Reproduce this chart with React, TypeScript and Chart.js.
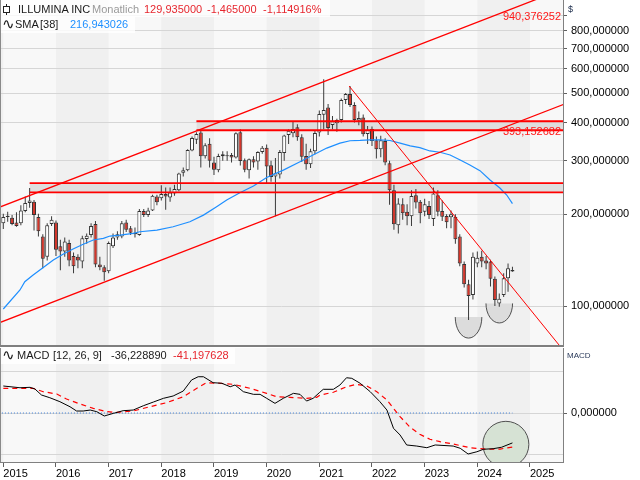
import React, { useEffect, useRef } from "react";
import { Chart, registerables } from "chart.js";

Chart.register(...registerables);

const FONT = "'Liberation Sans', Arial, sans-serif";

// ---- categories / ticks ----
const yearLabels = ["2015", "2016", "2017", "2018", "2019", "2020", "2021", "2022", "2023", "2024", "2025"];
const yearStartMonths = [0, 12, 24, 36, 48, 60, 72, 84, 96, 108, 120]; // month index, 0 = Jan 2015
const priceTicks = [100, 200, 300, 400, 500, 600, 700, 800, 900];
const priceTickLabels = ["100,000000", "200,000000", "300,000000", "400,000000", "500,000000", "600,000000", "700,000000", "800,000000", ""];
const macdTicks = [-50, 0, 50];
const macdTickLabels = ["", "0,000000", ""];

// ---- monthly candles, Jan 2015 .. Sep 2024 ----
const opens = [187, 196, 195, 188, 187, 205, 218, 220, 196, 169, 145, 186,
  188, 157, 151, 161, 146, 145, 140, 166, 171, 186, 137, 134,
  130, 157, 168, 169, 188, 180, 174, 171, 205, 199, 206, 229,
  226, 233, 227, 234, 240, 274, 279, 324, 351, 371, 310, 341,
  296, 279, 315, 310, 313, 307, 372, 301, 279, 303, 298, 320,
  331, 290, 266, 270, 318, 364, 369, 386, 358, 311, 292, 322,
  371, 424, 448, 393, 398, 408, 474, 496, 457, 406, 416, 367,
  381, 350, 327, 348, 294, 240, 184, 216, 204, 197, 231, 220,
  204, 213, 193, 231, 205, 197.5, 195.6, 196.5, 169, 137.4, 117.8, 108.7,
  138, 145, 141, 140, 123, 102, 108.7, 123.3, 131.4];
const highs = [201, 204, 199, 203, 214, 229, 244, 223, 201, 172, 187, 197,
  191, 165, 168, 165, 150, 148, 170, 173, 187, 190, 145, 136,
  163, 173, 176, 190, 192, 183, 181, 208, 208, 210, 232, 232,
  249, 245, 245, 250, 274, 285, 327, 360, 372, 377, 342, 355,
  309, 316, 322, 322, 318, 372, 380, 305, 305, 310, 322, 335,
  339, 300, 306, 325, 365, 380, 404, 395, 366, 341, 328, 375,
  438, 555, 460, 420, 412, 480, 500, 527, 466, 435, 425, 390,
  388, 360, 362, 355, 300, 250, 226, 226, 216, 240, 242, 223,
  225, 221, 245, 240, 222, 200, 206, 200, 172, 140, 122, 150,
  151, 152, 146, 142, 125, 110, 128, 138, 134.6];
const lows = [179, 189, 184, 182, 184, 203, 210, 177, 169, 133, 141, 183,
  146, 131, 145, 135, 128, 133, 133, 160, 168, 134, 131, 121,
  128, 155, 165, 167, 175, 171, 168, 170, 196, 196, 205, 214,
  222, 207, 220, 230, 238, 266, 277, 322, 340, 285, 305, 285,
  269, 275, 300, 300, 296, 305, 289, 275, 262, 285, 280, 316,
  253, 256, 197, 262, 300, 340, 358, 349, 297, 280, 284, 315,
  360, 380, 364, 380, 373, 400, 460, 450, 400, 392, 360, 340,
  335, 305, 308, 290, 215, 178, 173, 192, 184, 183, 209, 187,
  197, 193, 183, 197, 190, 180, 180, 160, 135, 115, 90, 105,
  134, 134, 132, 116, 100, 99.5, 107, 111.4, 129.6];
const closes = [196, 198, 186, 183, 206, 218, 222, 199, 176, 143, 184, 192,
  153, 151, 163, 141, 135, 141, 167, 170, 183, 137, 134, 129,
  161, 168, 172, 187, 178, 174, 172, 205, 199, 206, 230, 219,
  233, 229, 236, 242, 272, 279, 325, 356, 367, 310, 337, 300,
  280, 311, 310, 312, 307, 369, 299, 280, 303, 296, 320, 331,
  287, 265, 273, 320, 363, 376, 381, 358, 309, 292, 322, 370,
  427, 440, 384, 404, 408, 474, 496, 457, 408, 414, 366, 379,
  348, 327, 350, 296, 240, 185.5, 217, 201.5, 197, 229.5, 218.6, 201.5,
  216, 199, 234, 204, 196.4, 188.5, 200, 165.5, 138, 118, 107.8, 145,
  144, 140, 138, 123, 104.6, 105.7, 123.3, 133, 129.935];
const candleMonths = closes.map((_, i) => i);

// ---- SMA(38) ----
const smaMonths = [0, 3.8, 4.9, 6.8, 9.1, 11.4, 13.7, 15.9, 18.2, 20.5, 22.8, 24.3, 26.6, 29.6, 31.1, 35, 38.7, 42.5, 45.6, 48.6,
  50.9, 53.9, 57, 60, 63.8, 67.6, 69.9, 73.7, 76.7, 79, 81.3, 83.6, 85.8, 88.1, 90.4, 92.7, 94.9, 97.2, 99.5, 101.8,
  104.1, 106.3, 108.6, 110.9, 113.2, 114.7, 116];
const smaValues = [97.8, 112.9, 120.2, 126.4, 133.9, 141.6, 148.2, 153.9, 159.5, 164.7, 166.7, 169.7, 171, 173.2, 175.3, 177.5, 182, 189, 198.8, 211.8,
  222.7, 235.5, 247.7, 264.2, 279.3, 297.6, 309.4, 329.9, 342.6, 348.7, 349.5, 350.9, 350.9, 349.4, 342.6, 335.4, 331, 322.8, 319.6, 313.2,
  301.4, 290.3, 278.2, 259.2, 243.6, 231.4, 216.94];

// ---- MACD (12,26,9) ----
const macdMonths = [0, 3.8, 6.1, 7.2, 8.7, 10.6, 12.9, 15.2, 16.7, 18.2, 19.8, 21.3, 23, 25.1, 27.3, 29.6, 31.9, 34.2, 36.5, 38.7,
  41, 42.9, 44.4, 45.6, 47.8, 49.8, 51.7, 52.8, 54.7, 57, 58.5, 60, 61.9, 63.8, 66.1, 67.6, 69.1, 70.6, 72, 72.9,
  75.2, 76.7, 78.2, 79.4, 81.3, 83.6, 85.8, 87.4, 88.9, 90.4, 91.9, 94.2, 96.5, 98.4, 102.5, 104.1, 105.9, 107.9, 109.4, 111.6,
  113.5, 116];
const macdValues = [32.7, 30.6, 31.1, 29.1, 21.8, 18.5, 13.7, 7.6, 2.4, 2.4, 3.6, 1.6, -3.6, -0.4, 2.8, 3.6, 8.8, 13.3, 17.8, 20.6,
  26.6, 40, 43.9, 43.9, 36.7, 36, 31.8, 33.9, 25.8, 22.6, 22.6, 17.8, 11.7, 17.8, 23.8, 22.6, 14.5, 17.8, 24.6, 28.7,
  28.7, 33.9, 42.7, 42, 36, 25.8, 13.7, 3.6, -18.5, -26.6, -38.7, -40, -42, -38.7, -40, -42.7, -49.6, -46.9, -43.9, -43.2,
  -41.5, -36.2];
const signalMonths = [0, 3.8, 6.8, 9.1, 12.2, 14.4, 17.5, 20.5, 23.6, 25.8, 29.6, 33.4, 37.2, 41, 44.1, 46.3, 49.4, 52.4, 56.2, 60,
  62.3, 65.3, 69.1, 71.4, 72.2, 75.2, 78.2, 80.5, 82.8, 85.1, 87.4, 90.4, 92.7, 94.9, 97.2, 99.5, 102.5, 106.3, 110.1, 113.2, 116];
const signalValues = [29.9, 29.9, 29.9, 25.8, 23, 16.9, 10.9, 5.7, 1.6, 0.8, 2.4, 7.6, 12.5, 19.7, 29.9, 36.7, 36, 34.7, 29.9, 23.8,
  19.7, 19, 17.8, 19, 21.8, 25.1, 31.8, 34.7, 32.7, 25.8, 15.7, -4.5, -17.3, -25.8, -31.8, -34.7, -37.5, -42, -43.9, -43.6, -41.2];
const zeroLineMonths = [-1, 116];

// ---- drawings (trend lines, zones, marks) ----
const upperChannelMonths = [-1, 128];
const upperChannelValues = [210.7, 1104];
const lowerChannelMonths = [-1, 128];
const lowerChannelValues = [88.0, 461];
const downtrendMonths = [78.8, 128];
const downtrendValues = [527, 70.4];
const zoneStartMonths = [6, 44];
const zoneBottoms = [236, 377.5];
const zoneTops = [253, 404];
const zoneEndMonth = 128;
const cupCenterMonths = [106, 113];
const cupTopValues = [92, 102];
const cupBottomValues = [78.5, 88];
const cupHalfWidthMonths = 3.03;
const circleMonth = 114.5;
const circleValue = -37.9;
const circleRadius = 23;
const channelLabel = "940,376252";
const zoneLabel = "393,152682";

const X_MIN = -0.752;
const X_MAX = 127.52;

const pts = (xs: number[], ys: number[]) => xs.map((x, i) => ({ x, y: ys[i] }));

const bgPlugin = {
  id: "bgBands",
  beforeDraw(chart: any) {
    const { ctx, chartArea: a } = chart;
    const x = chart.scales.x;
    ctx.save();
    ctx.fillStyle = "#f8f8f8";
    ctx.fillRect(a.left, a.top, a.right - a.left, a.bottom - a.top);
    ctx.beginPath();
    ctx.rect(a.left, a.top, a.right - a.left, a.bottom - a.top);
    ctx.clip();
    ctx.fillStyle = "#f0f0f0";
    const starts = [-12, ...yearStartMonths];
    starts.forEach((m, k) => {
      if (k % 2 === 0) {
        const x0 = x.getPixelForValue(m);
        const x1 = x.getPixelForValue(m + 12);
        ctx.fillRect(x0, a.top, x1 - x0, a.bottom - a.top);
      }
    });
    ctx.restore();
  },
  afterDraw(chart: any) {
    const { ctx, chartArea: a } = chart;
    ctx.save();
    ctx.fillStyle = "#8a8a8a";
    ctx.fillRect(0, a.top, 1, a.bottom - a.top);
    if (chart.options.plugins.sepLine) {
      ctx.fillStyle = "#7f7f7f";
      ctx.fillRect(0, a.bottom, a.right + 1, 2);
    }
    ctx.restore();
  },
};

const cupsPlugin = {
  id: "cups",
  beforeDatasetsDraw(chart: any) {
    const { ctx, chartArea: a } = chart;
    const x = chart.scales.x;
    const y = chart.scales.y;
    ctx.save();
    ctx.beginPath();
    ctx.rect(a.left, a.top, a.right - a.left, a.bottom - a.top);
    ctx.clip();
    cupCenterMonths.forEach((m, k) => {
      const cx = x.getPixelForValue(m);
      const rx = x.getPixelForValue(m + cupHalfWidthMonths) - cx;
      const top = y.getPixelForValue(cupTopValues[k]);
      const bot = y.getPixelForValue(cupBottomValues[k]);
      ctx.beginPath();
      ctx.ellipse(cx, top, rx, bot - top, 0, 0, Math.PI);
      ctx.fillStyle = "#dcdcdc";
      ctx.fill();
      ctx.strokeStyle = "#505050";
      ctx.lineWidth = 1;
      ctx.stroke();
    });
    ctx.restore();
  },
};

const labelsPlugin = {
  id: "drawLabels",
  afterDatasetsDraw(chart: any) {
    const { ctx, chartArea: a } = chart;
    const y = chart.scales.y;
    ctx.save();
    ctx.font = "11px " + FONT;
    ctx.fillStyle = "#ff1a1a";
    ctx.textAlign = "right";
    ctx.textBaseline = "middle";
    ctx.fillText(channelLabel, a.right - 2, a.top + 17);
    ctx.fillText(zoneLabel, a.right - 2, y.getPixelForValue(zoneBottoms[1]) + 1.5);
    ctx.restore();
  },
};

const lineDs = (data: any[], color: string, width: number, order: number, extra: any = {}) => ({
  type: "line",
  data,
  borderColor: color,
  borderWidth: width,
  pointRadius: 0,
  tension: 0,
  fill: false,
  order,
  ...extra,
});

function mainConfig(): any {
  const datasets: any[] = [];
  zoneStartMonths.forEach((s, k) => {
    datasets.push(
      lineDs([{ x: s, y: zoneTops[k] }, { x: zoneEndMonth, y: zoneTops[k] }], "#ff0000", 1.8, 2, {
        fill: { value: zoneBottoms[k] },
        backgroundColor: "#dedede",
      })
    );
    datasets.push(lineDs([{ x: s, y: zoneBottoms[k] }, { x: zoneEndMonth, y: zoneBottoms[k] }], "#ff0000", 1.8, 2));
  });
  datasets.push({
    type: "bar",
    data: candleMonths.map((m, i) => ({ x: m, y: [lows[i], highs[i]] })),
    backgroundColor: "#3a3a3a",
    borderWidth: 0,
    barThickness: 1,
    inflateAmount: 0,
    grouped: false,
    order: 9,
  });
  datasets.push({
    type: "bar",
    data: candleMonths.map((m, i) => ({ x: m, y: [opens[i], closes[i]] })),
    backgroundColor: (c: any) => {
      const i = c.dataIndex;
      return closes[i] < opens[i] ? "#d2352a" : "#ffffff";
    },
    borderColor: "#333333",
    borderWidth: 1,
    borderSkipped: false,
    barThickness: 4,
    minBarLength: 1,
    inflateAmount: 0,
    grouped: false,
    order: 8,
  });
  datasets.push(lineDs(pts(smaMonths, smaValues), "#1e8fff", 1.2, 5));
  datasets.push(lineDs(pts(upperChannelMonths, upperChannelValues), "#ff0000", 1.3, 1));
  datasets.push(lineDs(pts(lowerChannelMonths, lowerChannelValues), "#ff0000", 1.3, 1));
  datasets.push(lineDs(pts(downtrendMonths, downtrendValues), "#ff0000", 1, 1));

  return {
    type: "bar",
    data: { datasets },
    options: {
      animation: false,
      responsive: false,
      devicePixelRatio: 1,
      events: [],
      layout: { autoPadding: false, padding: { left: 0, right: 0, top: 0, bottom: 2 } },
      plugins: {
        legend: { display: false },
        tooltip: { enabled: false },
        filler: { drawTime: "beforeDatasetsDraw" },
        sepLine: true,
      },
      scales: {
        x: { type: "linear", min: X_MIN, max: X_MAX, display: false, offset: false, grid: { offset: false } },
        y: {
          type: "logarithmic",
          position: "right",
          min: 74.5,
          max: 1010,
          afterBuildTicks: (s: any) => {
            s.ticks = priceTicks.map((v) => ({ value: v }));
          },
          afterFit: (s: any) => {
            s.width = 77;
            s.paddingTop = 0;
            s.paddingBottom = 0;
          },
          ticks: {
            autoSkip: false,
            padding: 4,
            color: "#000",
            font: { size: 11, family: FONT },
            callback: (_v: any, idx: number) => priceTickLabels[idx],
          },
          grid: { color: "#d6d6d6", tickColor: "#606060", tickLength: 4 },
          border: { display: true, color: "#808080" },
        },
      },
    },
    plugins: [bgPlugin, cupsPlugin, labelsPlugin],
  };
}

function macdConfig(): any {
  const datasets: any[] = [
    {
      type: "bubble",
      data: [{ x: circleMonth, y: circleValue, r: circleRadius }],
      backgroundColor: "#d6e2d4",
      borderColor: "#505050",
      borderWidth: 1,
      clip: 0,
      order: 10,
    },
    lineDs(pts(zeroLineMonths, [0, 0]), "#3b7dd8", 1, 4, { borderDash: [1, 2] }),
    lineDs(pts(signalMonths, signalValues), "#ff0000", 1.2, 3, { borderDash: [5, 4] }),
    lineDs(pts(macdMonths, macdValues), "#000000", 1, 2),
  ];
  return {
    type: "line",
    data: { datasets },
    options: {
      animation: false,
      responsive: false,
      devicePixelRatio: 1,
      events: [],
      layout: { autoPadding: false, padding: { left: 0, right: 0, top: 1, bottom: 0 } },
      plugins: { legend: { display: false }, tooltip: { enabled: false } },
      scales: {
        x: {
          type: "linear",
          position: "bottom",
          min: X_MIN,
          max: X_MAX,
          offset: false,
          afterBuildTicks: (s: any) => {
            s.ticks = yearStartMonths.map((v) => ({ value: v }));
          },
          afterFit: (s: any) => {
            s.height = 18;
            s.paddingLeft = 0;
            s.paddingRight = 0;
          },
          ticks: {
            autoSkip: false,
            maxRotation: 0,
            align: "start",
            padding: 0,
            color: "#000",
            font: { size: 11, family: FONT },
            callback: (_v: any, idx: number) => yearLabels[idx],
          },
          grid: { drawOnChartArea: false, tickLength: 5, tickColor: "#606060" },
          border: { display: true, color: "#808080" },
        },
        y: {
          type: "linear",
          position: "right",
          min: -59.3,
          max: 78.7,
          afterBuildTicks: (s: any) => {
            s.ticks = macdTicks.map((v) => ({ value: v }));
          },
          afterFit: (s: any) => {
            s.width = 77;
            s.paddingTop = 0;
            s.paddingBottom = 0;
          },
          ticks: {
            autoSkip: false,
            padding: 4,
            color: "#000",
            font: { size: 11, family: FONT },
            callback: (_v: any, idx: number) => macdTickLabels[idx],
          },
          grid: {
            color: "#d6d6d6",
            tickLength: 4,
            tickColor: (c: any) => (c.tick && c.tick.value === 0 ? "#606060" : "rgba(0,0,0,0)"),
          },
          border: { display: true, color: "#808080" },
        },
      },
    },
    plugins: [bgPlugin],
  };
}

const txt = (left: number, top: number, color: string, s: string, size = 11, family = FONT): any => (
  <span
    style={{
      position: "absolute",
      left,
      top,
      color,
      font: `${size}px ${family}`,
      lineHeight: "13px",
      whiteSpace: "nowrap",
    }}
  >
    {s}
  </span>
);

export default function App() {
  const mainRef = useRef<HTMLCanvasElement>(null);
  const macdRef = useRef<HTMLCanvasElement>(null);

  useEffect(() => {
    const c1 = new Chart(mainRef.current as HTMLCanvasElement, mainConfig());
    const c2 = new Chart(macdRef.current as HTMLCanvasElement, macdConfig());
    return () => {
      c1.destroy();
      c2.destroy();
    };
  }, []);

  return (
    <div style={{ position: "fixed", left: 0, top: 0, width: 640, height: 480, background: "#fff", overflow: "hidden" }}>
      <canvas ref={mainRef} width={640} height={347} style={{ position: "absolute", left: 0, top: 0, width: 640, height: 347 }} />
      <canvas ref={macdRef} width={640} height={133} style={{ position: "absolute", left: 0, top: 347, width: 640, height: 133 }} />

      {/* header legend boxes */}
      <div style={{ position: "absolute", left: 1, top: 0, width: 329, height: 17, background: "rgba(255,255,255,0.8)" }} />
      <div style={{ position: "absolute", left: 1, top: 17, width: 134, height: 16, background: "rgba(255,255,255,0.8)" }} />
      <div style={{ position: "absolute", left: 1, top: 348, width: 234, height: 16, background: "rgba(255,255,255,0.8)" }} />

      {/* candle icon */}
      <div style={{ position: "absolute", left: 6, top: 4, width: 1, height: 11, background: "#222" }} />
      <div style={{ position: "absolute", left: 3, top: 6, width: 5, height: 5, border: "1px solid #222", background: "#fff" }} />
      {txt(18, 3, "#1a1a1a", "ILLUMINA INC")}
      {txt(92, 3, "#9a9a9a", "Monatlich")}
      {txt(144, 3, "#e6262e", "129,935000")}
      {txt(207, 3, "#e6262e", "-1,465000")}
      {txt(263, 3, "#e6262e", "-1,114916%")}

      {txt(2, 18, "#1a1a1a", "∿", 15, "'DejaVu Sans', sans-serif")}
      {txt(15, 18, "#1a1a1a", "SMA")}
      {txt(40, 18, "#1a1a1a", "[38]")}
      {txt(70, 18, "#1e8fff", "216,943026")}

      {txt(2, 349, "#1a1a1a", "∿", 15, "'DejaVu Sans', sans-serif")}
      {txt(17, 349, "#1a1a1a", "MACD")}
      {txt(53, 349, "#1a1a1a", "[12, 26, 9]")}
      {txt(111, 349, "#1a1a1a", "-36,228890")}
      {txt(173, 349, "#e6262e", "-41,197628")}

      {txt(568, 3, "#1a2a4a", "$", 9)}
      {txt(567, 349, "#2a3a5a", "MACD", 8)}
    </div>
  );
}
